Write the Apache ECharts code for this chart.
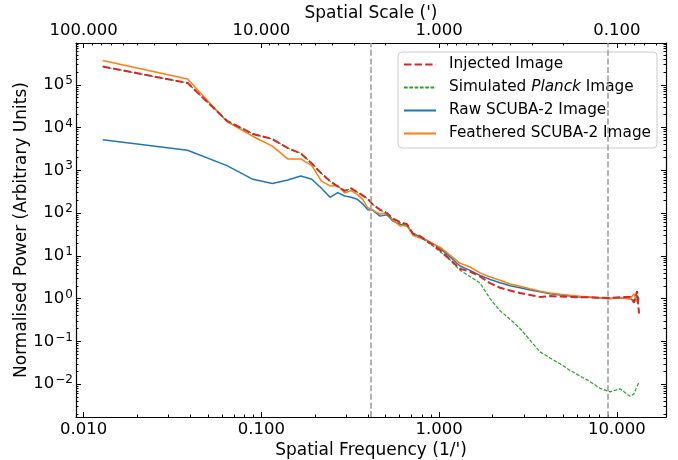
<!DOCTYPE html>
<html>
<head>
<meta charset="utf-8">
<script src="https://cdn.jsdelivr.net/npm/echarts@6/dist/echarts.min.js"></script>
<style>
html, body { margin: 0; padding: 0; background: #fff; }
#chart { width: 678px; height: 460px; }
</style>
</head>
<body>
<div id="chart"></div>
<script>
// spatial frequency (1/') of each annulus
const freq = [0.0128, 0.0384, 0.064, 0.0896, 0.1152, 0.1408, 0.1664, 0.192, 0.2176, 0.2432,
  0.2688, 0.2944, 0.32, 0.3456, 0.3712, 0.3968, 0.4224,
  0.465, 0.509, 0.550, 0.603, 0.660, 0.713, 0.781, 0.855, 0.924, 1.012,
  1.152, 1.311, 1.492, 1.699, 1.934, 2.201, 2.506, 2.853, 3.247, 3.697,
  4.208, 4.79, 5.453, 6.207, 7.066, 8.044, 9.157, 10.42, 11.87,
  12.50, 12.99, 13.33];

const injected = [268000, 110000, 14400, 7100, 5400, 3300, 2500, 1450, 850, 560,
  420, 330, 380, 310, 260, 215, 160,
  120, 100, 75, 62, 55, 33, 29, 22, 18, 13.5,
  8.2, 5.0, 4.3, 3.3, 2.3, 1.8, 1.55, 1.35, 1.22, 1.10,
  1.15, 1.12, 1.10, 1.08, 1.07, 1.05, 1.04, 1.08, 1.10,
  0.8, 1.5, 0.45];

const planck = [268000, 110000, 14400, 7100, 5400, 3300, 2500, 1450, 850, 560,
  420, 330, 380, 310, 260, 215, 160,
  118, 100, 72, 60, 52, 33, 28, 21, 17, 12.5,
  8.0, 4.6, 3.3, 2.3, 1.0, 0.52, 0.33, 0.20, 0.107, 0.057,
  0.041, 0.030, 0.021, 0.0155, 0.0115, 0.0080, 0.0066, 0.0078, 0.0052,
  0.0060, 0.0090, 0.0112];

const rawScuba = [5200, 2950, 1290, 617, 490, 596, 741, 617, 380, 234,
  302, 251, 235, 212, 165, 120, 118,
  85, 92, 65, 55, 50, 33, 28, 23, 19, 15,
  9.5, 5.8, 4.6, 3.5, 2.8, 2.35, 2.0, 1.8, 1.6, 1.45,
  1.3, 1.22, 1.15, 1.10, 1.08, 1.05, 1.03, 1.02, 1.0,
  0.9, 1.2, 1.0];

const feathered = [370000, 137000, 13800, 6200, 3700, 1850, 1850, 1290, 560, 432,
  440, 295, 335, 275, 210, 135, 118,
  95, 99, 68, 50, 52, 30, 26, 23, 19, 16,
  10.5, 6.7, 5.5, 4.0, 3.2, 2.7, 2.2, 1.95, 1.7, 1.5,
  1.35, 1.27, 1.2, 1.14, 1.1, 1.03, 1.0, 1.05, 1.0,
  1.3, 0.85, 1.0];

// dashed vertical lines
const cutoffs = [0.414, 8.92];

const freqTicks = [0.01, 0.1, 1, 10];
const scaleTicks = [0.1, 1, 10, 100];
const powerTicks = [1e-2, 1e-1, 1, 10, 100, 1e3, 1e4, 1e5];

const xMin = 0.00905, xMax = 18.9;
const yMin = 1.71e-3, yMax = 9.5e5;
const font = 'DejaVu Sans';

// 2..9 x 10^n inside [lo, hi]
function minorTicks(lo, hi) {
  let out = [];
  for (let n = -4; n <= 6; n++) {
    for (let m = 2; m <= 9; m++) {
      let v = m * Math.pow(10, n);
      if (v > lo && v < hi) out.push(v);
    }
  }
  return out;
}

function pairs(ys) {
  return freq.map((f, i) => [f, ys[i]]);
}

const chart = echarts.init(document.getElementById('chart'), null, { renderer: 'canvas' });

const tickLine = { color: '#000', width: 1 };
const label = { color: '#000', fontFamily: font, fontSize: 16.5 };
const nameStyle = { color: '#000', fontFamily: font, fontSize: 17 };

function majorAxis(pos, lo, hi, ticks, extra) {
  return Object.assign({
    type: 'log', position: pos, min: lo, max: hi,
    nameMoveOverlap: false,
    axisLine: { show: true, onZero: false, lineStyle: { color: '#000', width: 1.2 } },
    axisTick: { show: true, inside: true, length: 5, customValues: ticks, lineStyle: tickLine },
    axisLabel: { show: false },
    splitLine: { show: false },
    minorTick: { show: false }
  }, extra || {});
}
function minorAxis(pos, lo, hi, extra) {
  return Object.assign({
    type: 'log', position: pos, min: lo, max: hi,
    axisLine: { show: false, onZero: false },
    axisTick: { show: true, inside: true, length: 2.5, customValues: minorTicks(lo, hi), lineStyle: tickLine },
    axisLabel: { show: false },
    splitLine: { show: false },
    minorTick: { show: false }
  }, extra || {});
}

const option = {
  animation: false,
  backgroundColor: '#fff',
  grid: { left: 76, right: 12, top: 43, bottom: 43, containLabel: false, outerBoundsMode: 'none' },
  legend: {
    orient: 'vertical',
    left: 398,
    top: 52,
    data: ['Injected Image', 'Simulated Planck Image', 'Raw SCUBA-2 Image', 'Feathered SCUBA-2 Image'],
    itemWidth: 32,
    itemHeight: 14,
    itemGap: 8,
    padding: [5, 6, 7, 5],
    backgroundColor: 'rgba(255,255,255,0.8)',
    borderColor: '#cccccc',
    borderWidth: 1,
    borderRadius: 4,
    itemStyle: { opacity: 0 },
    formatter: function (n) {
      return n === 'Simulated Planck Image' ? 'Simulated {i|Planck} Image' : n;
    },
    textStyle: {
      color: '#000', fontFamily: font, fontSize: 15.3, padding: [0, 0, 0, 8],
      rich: { i: { fontStyle: 'italic', fontFamily: font, fontSize: 15.3, color: '#000' } }
    }
  },
  xAxis: [
    majorAxis('bottom', xMin, xMax, freqTicks, {
      name: "Spatial Frequency (1/')",
      nameLocation: 'middle',
      nameGap: 25,
      nameTextStyle: nameStyle,
      axisLabel: Object.assign({ show: true, customValues: freqTicks, margin: 4,
        formatter: v => v.toFixed(3) }, label)
    }),
    minorAxis('bottom', xMin, xMax),
    majorAxis('top', 1 / xMax, 1 / xMin, scaleTicks, {
      inverse: true,
      name: "Spatial Scale (')",
      nameLocation: 'middle',
      nameGap: 21,
      nameTextStyle: nameStyle,
      axisLabel: Object.assign({ show: true, customValues: scaleTicks, margin: 4,
        formatter: v => v.toFixed(3) }, label)
    }),
    minorAxis('top', 1 / xMax, 1 / xMin, { inverse: true })
  ],
  yAxis: [
    majorAxis('left', yMin, yMax, powerTicks, {
      name: 'Normalised Power (Arbitrary Units)',
      nameLocation: 'middle',
      nameGap: 46,
      nameTextStyle: nameStyle,
      axisLabel: {
        show: true, customValues: powerTicks, margin: 3,
        formatter: function (v) {
          let e = Math.round(Math.log10(v));
          return '{b|10}{s|' + (e < 0 ? '\u2212' + (-e) : e) + '}';
        },
        rich: {
          b: { color: '#000', fontFamily: font, fontSize: 16.5 },
          s: { color: '#000', fontFamily: font, fontSize: 12, padding: [0, 0, 8, 1] }
        }
      }
    }),
    minorAxis('left', yMin, yMax),
    majorAxis('right', yMin, yMax, powerTicks),
    minorAxis('right', yMin, yMax)
  ],
  series: [
    {
      name: 'Raw SCUBA-2 Image', type: 'line', data: pairs(rawScuba),
      symbol: 'none', showSymbol: false,
      lineStyle: { color: '#1f77b4', width: 1.5 }, itemStyle: { color: '#1f77b4' },
      markLine: {
        silent: true, symbol: ['none', 'none'], label: { show: false },
        lineStyle: { color: '#999999', type: [6, 2.6], width: 1.5 },
        data: cutoffs.map(c => ({ xAxis: c }))
      }
    },
    {
      name: 'Feathered SCUBA-2 Image', type: 'line', data: pairs(feathered),
      symbol: 'none', showSymbol: false,
      lineStyle: { color: '#ff7f0e', width: 1.5 }, itemStyle: { color: '#ff7f0e' }
    },
    {
      name: 'Simulated Planck Image', type: 'line', data: pairs(planck),
      symbol: 'none', showSymbol: false,
      lineStyle: { color: '#2ca02c', width: 1.2, type: [3.7, 1.6] }, itemStyle: { color: '#2ca02c' }
    },
    {
      name: 'Injected Image', type: 'line', data: pairs(injected),
      symbol: 'none', showSymbol: false,
      lineStyle: { color: '#d62728', width: 2, type: [7.4, 3.2] }, itemStyle: { color: '#d62728' }
    }
  ]
};

chart.setOption(option);
</script>
</body>
</html>
